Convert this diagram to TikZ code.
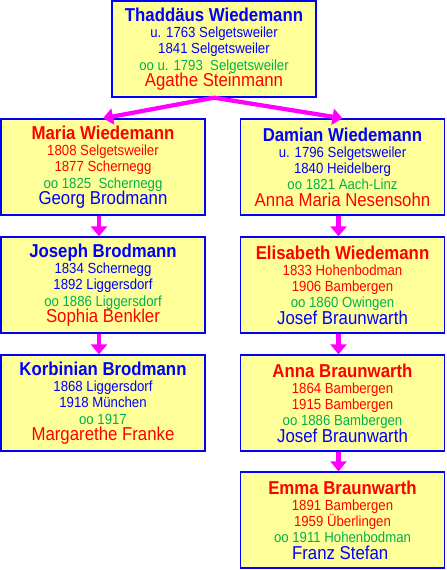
\documentclass[tikz,border=0pt]{standalone}
\usepackage{fontspec}
\setmainfont[FakeStretch=0.9]{Liberation Sans}
\usetikzlibrary{positioning,arrows.meta}
\definecolor{boxfill}{HTML}{FFFF99}
\definecolor{nblue}{HTML}{0000FF}
\definecolor{nred}{HTML}{FF0000}
\definecolor{ngreen}{HTML}{00B050}
\definecolor{kid}{HTML}{FF00FF}
\setlength{\lineskiplimit}{-20pt}
\begin{document}
\begin{tikzpicture}[x=0.75pt,y=-0.75pt,
  person/.style={draw=nblue,line width=1pt,fill=boxfill,minimum width=153pt,
    minimum height=72pt,inner sep=0pt,align=center,
    font=\fontsize{11}{12.2}\selectfont},
  child/.style={kid,line width=3.2pt,-{Triangle[width=12pt,length=7.5pt]}}]
\useasboundingbox (0,0) rectangle (446,570);
\foreach \x/\y/\id/\nc/\sc/\name/\born/\died/\wed/\spouse in {
  214/49/thaddaeus/nblue/nred/Thaddäus Wiedemann/u. 1763 Selgetsweiler/1841 Selgetsweiler/oo u. 1793~ Selgetsweiler/Agathe Steinmann,
  103/167/maria/nred/nblue/Maria Wiedemann/1808 Selgetsweiler/1877 Schernegg/oo 1825~ Schernegg/Georg Brodmann,
  342.5/167/damian/nblue/nred/Damian Wiedemann/u. 1796 Selgetsweiler/1840 Heidelberg/oo 1821 Aach-Linz/Anna Maria Nesensohn,
  103/285/joseph/nblue/nred/Joseph Brodmann/1834 Schernegg/1892 Liggersdorf/oo 1886 Liggersdorf/Sophia Benkler,
  342.5/285/elisabeth/nred/nblue/Elisabeth Wiedemann/1833 Hohenbodman/1906 Bambergen/oo 1860 Owingen/Josef Braunwarth,
  103/403/korbinian/nblue/nred/Korbinian Brodmann/1868 Liggersdorf/1918 München/oo 1917/Margarethe Franke,
  342.5/403/anna/nred/nblue/Anna Braunwarth/1864 Bambergen/1915 Bambergen/oo 1886 Bambergen/Josef Braunwarth,
  342.5/520/emma/nred/nblue/Emma Braunwarth/1891 Bambergen/1959 Überlingen/oo 1911 Hohenbodman/Franz Stefan
}{
  \node[person] (\id) at (\x,\y) {%
    \textcolor{\nc}{\fontsize{14}{12}\selectfont\bfseries \name}\\
    \textcolor{\nc}{\born}\\
    \textcolor{\nc}{\died}\\
    \textcolor{ngreen}{\wed}\\
    \textcolor{\sc}{\fontsize{14}{12}\selectfont \spouse}};
}
% children
\draw[child] (thaddaeus.south) -- (maria.north);
\draw[child] (thaddaeus.south) -- (damian.north);
\foreach \a/\b in {maria/joseph,joseph/korbinian,damian/elisabeth,elisabeth/anna,anna/emma}
  \draw[child] ([xshift=-3pt]\a.south) -- ([xshift=-3pt]\b.north);
\end{tikzpicture}
\end{document}
